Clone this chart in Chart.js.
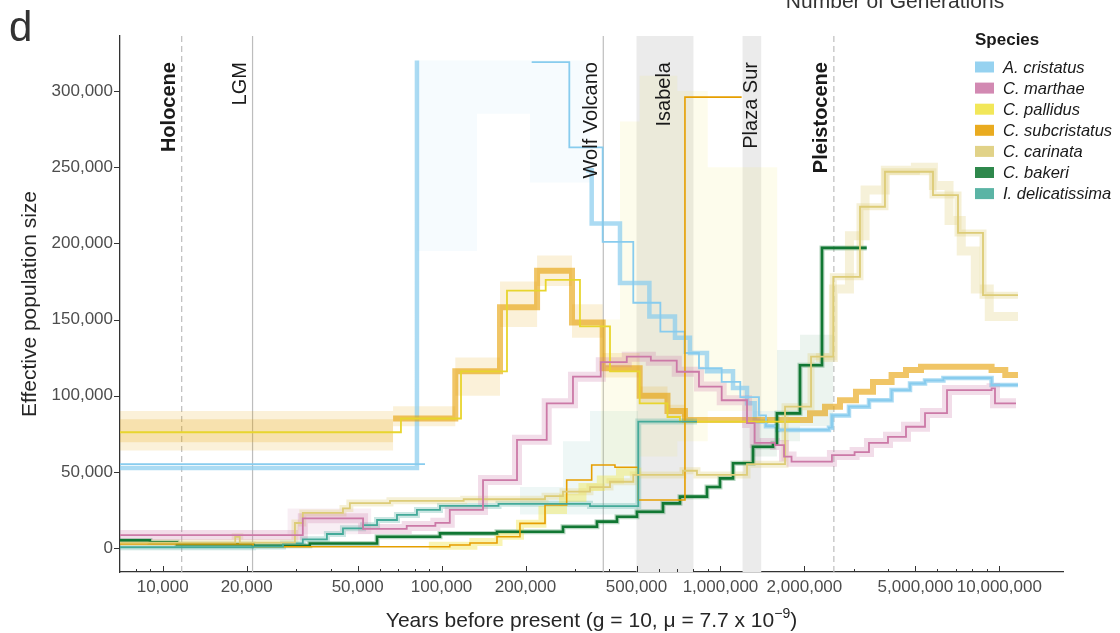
<!DOCTYPE html>
<html>
<head>
<meta charset="utf-8">
<title>PSMC effective population size</title>
<script src="https://cdn.jsdelivr.net/npm/chart.js@4.4.1/dist/chart.umd.min.js"></script>
<style>
  html, body { margin: 0; padding: 0; background: #fff; }
  #wrap { width: 1120px; height: 633px; }
</style>
</head>
<body>
<div id="wrap"><canvas id="psmcChart" width="1120" height="633"></canvas></div>
<script>
// ---- axes ----
const X_MIN = 7030, X_MAX = 16910000;
const Y_MIN = -15750, Y_MAX = 336100;
const X_TICKS = [10000, 20000, 50000, 100000, 200000, 500000, 1000000, 2000000, 5000000, 10000000];
const X_MINOR_TICKS = [8000, 9000, 30000, 40000, 60000, 70000, 80000, 90000,
  300000, 400000, 600000, 700000, 800000, 900000, 3000000, 4000000, 6000000, 7000000, 8000000, 9000000];
const Y_TICKS = [0, 50000, 100000, 150000, 200000, 250000, 300000];

// ---- events / islands ----
const EVENT_NAMES = ['Holocene', 'LGM', 'Wolf Volcano', 'Pleistocene'];
const EVENT_YEARS = [11700, 21000, 380000, 2550000];
const EVENT_DASHED = [true, false, false, true];
const EVENT_BOLD = [true, false, false, true];
const ISLAND_NAMES = ['Isabela', 'Plaza Sur'];
const ISLAND_FROM = [500000, 1200000];
const ISLAND_TO = [800000, 1400000];

// ---- species ----
const SPECIES = ['A. cristatus', 'C. marthae', 'C. pallidus', 'C. subcristatus', 'C. carinata', 'C. bakeri', 'I. delicatissima'];
const SPECIES_COLORS = ['#88CCEE', '#CC79A7', '#F0E442', '#E69F00', '#DDCC77', '#117733', '#44AA99'];

// step series: each x starts a segment, last point closes it
const cristatusYears = [7030, 87200, 87200, 210400, 287100, 378100, 486800, 608800, 743400, 837300, 1010000, 1178000, 1374000, 1456000, 1600000, 2449000, 2510000, 2889000, 3408000, 4107000, 4782000, 5412000, 6300000, 9377000, 11660000];
const cristatusNe = [55000, 55000, null, 319000, 263000, 201000, 161000, 142000, 128000, 118000, 109000, 99000, 87000, 80000, 77500, 79000, 87000, 92800, 97000, 103700, 108000, 110000, 111600, 107000, 107000];
const cristatusBootYears = [7030, 81600, 81600, 330000, 345300, 436200, 556000, 686800, 777200, 894600, 1109000, 1245000, 1326000, 1456000, 1600000, 2449000, 2510000, 2889000, 3408000, 4107000, 4782000, 5412000, 6300000, 9377000, 11660000];
const cristatusBootNe = [52500, 320000, null, 248000, 213000, 174000, 152000, 138000, 128000, 116000, 105000, 95000, 83000, 80000, 77500, 79000, 87000, 92800, 97000, 103700, 108000, 110000, 111600, 107000, 107000];
const cristatusCloudYears = [81600, 134000, 207500, 340500];
const cristatusCloudHi = [320000, 320000, 320000, 320000];
const cristatusCloudLo = [195000, 285000, 240000, 240000];

const marthaeYears = [7030, 31800, 52300, 75000, 95000, 107000, 140800, 186400, 238200, 295900, 372200, 461300, 562800, 697000, 837300, 1010000, 1245000, 1326000, 1568000, 1690000, 1798000, 2510000, 3026000, 3408000, 3987000, 4626000, 5412000, 6490000, 9377000, 9645000, 11470000];
const marthaeNe = [8500, 19500, 12500, 14500, 16500, 25000, 44600, 71000, 95000, 112500, 122000, 125600, 123000, 115700, 106000, 97000, 82000, 69000, 67600, 60000, 56700, 61000, 63000, 69000, 73000, 79600, 88600, 103700, 104800, 95000, 95000];
const marthaeCloudYears = [28000, 56000];
const marthaeCloudHi = [26000, 26000];
const marthaeCloudLo = [9000, 9000];

const pallidusYears = [7030, 71500, 117400, 171600, 236200, 313500, 401700, 513100, 645600, 715700, 1928000];
const pallidusNe = [76000, 85000, 116000, 169000, 176000, 145500, 116000, 95000, 86000, 83000, 83000];
const pallidusBootYears = [90000, 130000, 160000, 191000, 230000, 272500, 320000, 372200, 436200, 520000];
const pallidusBootNe = [1500, 4000, 8000, 16000, 25000, 33000, 40000, 45000, 50000, 50000];
const pallidusCloudYears = [372200, 436200, 513100, 700000, 900000, 1600000];
const pallidusCloudHi = [150000, 280000, 310000, 300000, 250000, 250000];
const pallidusCloudLo = [55000, 55000, 60000, 70000, 90000, 90000];

const subcristatusYears = [7030, 21100, 107000, 126400, 158000, 191000, 234900, 280900, 345300, 418500, 507300, 745800, 1191000];
const subcristatusNe = [2600, 800, 2000, 3300, 7400, 16200, 28200, 44600, 54500, 53000, 31500, 296000, 296000];
const subcristatusBootYears = [67000, 112000, 162000, 220000, 293500, 378100, 513100, 645600, 745800, 2094000, 2370000, 2682000, 3061000, 3523000, 4107000, 4626000, 5236000, 9377000, 10500000, 11660000];
const subcristatusBootNe = [85000, 116000, 158000, 182000, 148000, 118000, 100000, 90000, 84000, 88400, 92800, 97000, 102600, 109000, 113600, 116900, 119000, 116900, 113600, 113600];
const subcristatusCloudYears = [7030, 67000, 112000, 162000, 220000, 293500, 378100, 513100, 645600, 745800];
const subcristatusCloudHi = [90000, 93000, 125000, 175000, 192000, 160000, 128000, 106000, 94000, 94000];
const subcristatusCloudLo = [64000, 80000, 100000, 145000, 172000, 138000, 112000, 95000, 86000, 86000];
const subcristatusCoreYears = [7030, 67000];
const subcristatusCoreHi = [84500, 84500];
const subcristatusCoreLo = [69500, 69500];

const carinataYears = [7030, 18200, 18900, 29800, 31800, 44300, 46900, 65300, 120000, 234900, 272500, 340500, 401700, 486800, 733600, 823500, 1245000, 1704000, 2112000, 2538000, 3164000, 3889000, 5781000, 7107000, 8736000, 11660000];
const carinataNe = [3500, 7400, 3500, 16400, 23000, 26000, 29500, 31000, 32000, 34000, 37000, 40000, 43500, 48000, 50700, 48000, 55000, 92800, 125600, 178000, 224000, 247000, 231700, 206800, 166000, 166000];
const carinataBootYears = [2200000, 2540000, 2900000, 3300000, 3900000, 5000000, 5800000, 6600000, 7300000, 8200000, 9200000, 11660000];
const carinataBootNe = [125000, 170000, 205000, 235000, 248000, 250000, 238000, 215000, 195000, 170000, 152000, 152000];

const bakeriYears = [7030, 9000, 11250, 21100, 33700, 58700, 98700, 158000, 272500, 360700, 425500, 501800, 622000, 715700, 894600, 995900, 1109000, 1308000, 1543000, 1594000, 1928000, 2312000, 3344000];
const bakeriNe = [5000, 3800, 2500, 1500, 3000, 7400, 9600, 10700, 14000, 17300, 20500, 23800, 29300, 33700, 40000, 45700, 55600, 66500, 68700, 88400, 120000, 197000, 197000];
const bakeriCloudYears = [1308000, 1594000, 1928000, 2540000];
const bakeriCloudHi = [90000, 130000, 140000, 140000];
const bakeriCloudLo = [60000, 70000, 80000, 80000];

const delicatissimaYears = [7030, 21100, 27000, 31800, 38800, 44300, 52300, 58700, 69200, 81600, 98700, 160000, 340500, 507300, 823500];
const delicatissimaNe = [500, 1000, 3000, 5700, 9200, 12900, 15000, 18400, 21700, 25000, 27600, 29000, 27500, 83000, 83000];
const delicatissimaCloudYears = [191000, 272500, 340500, 507300];
const delicatissimaCloudHi = [40000, 70000, 90000, 90000];
const delicatissimaCloudLo = [22000, 22000, 22000, 22000];

const FONT = "'Liberation Sans', Arial, Helvetica, sans-serif";
const C = {};
SPECIES.forEach((s, i) => { C[s] = SPECIES_COLORS[i]; });

function alpha(hex, a) {
    const n = parseInt(hex.slice(1), 16);
    return `rgba(${(n >> 16) & 255}, ${(n >> 8) & 255}, ${n & 255}, ${a})`;
}

function pts(xs, ys) {
    return xs.map((x, i) => ({ x, y: ys[i] }));
}

function steps(xs, ys, color, width, order) {
    return {
        data: pts(xs, ys),
        borderColor: color,
        borderWidth: width,
        stepped: true,
        pointRadius: 0,
        pointHoverRadius: 0,
        fill: false,
        spanGaps: false,
        clip: 0,
        order,
        borderJoinStyle: 'miter',
        borderCapStyle: 'butt'
    };
}

function cloud(xs, hi, lo, color, a) {
    return [
        { data: pts(xs, hi), borderWidth: 0, borderColor: 'rgba(0,0,0,0)', stepped: true, pointRadius: 0, fill: false, clip: 0, order: 5 },
        { data: pts(xs, lo), borderWidth: 0, borderColor: 'rgba(0,0,0,0)', backgroundColor: alpha(color, a), stepped: true, pointRadius: 0, fill: '-1', clip: 0, order: 5 }
    ];
}

const datasets = [
    ...cloud(cristatusCloudYears, cristatusCloudHi, cristatusCloudLo, C['A. cristatus'], 0.08),
    ...cloud(subcristatusCloudYears, subcristatusCloudHi, subcristatusCloudLo, C['C. subcristatus'], 0.15),
    ...cloud(subcristatusCoreYears, subcristatusCoreHi, subcristatusCoreLo, C['C. subcristatus'], 0.2),
    ...cloud(pallidusCloudYears, pallidusCloudHi, pallidusCloudLo, C['C. pallidus'], 0.1),
    ...cloud(delicatissimaCloudYears, delicatissimaCloudHi, delicatissimaCloudLo, C['I. delicatissima'], 0.09),
    ...cloud(bakeriCloudYears, bakeriCloudHi, bakeriCloudLo, C['C. bakeri'], 0.08),
    ...cloud(marthaeCloudYears, marthaeCloudHi, marthaeCloudLo, C['C. marthae'], 0.13),

    steps(pallidusBootYears, pallidusBootNe, alpha(C['C. pallidus'], 0.4), 8, 3),
    steps(marthaeYears, marthaeNe, alpha(C['C. marthae'], 0.25), 10, 3),
    steps(carinataYears, carinataNe, alpha(C['C. carinata'], 0.3), 7, 3),
    steps(carinataBootYears, carinataBootNe, alpha(C['C. carinata'], 0.28), 9, 3),
    steps(delicatissimaYears, delicatissimaNe, alpha(C['I. delicatissima'], 0.28), 6, 3),
    steps(bakeriYears, bakeriNe, alpha(C['C. bakeri'], 0.3), 5, 3),
    steps(subcristatusBootYears, subcristatusBootNe, alpha(C['C. subcristatus'], 0.6), 6, 3),
    steps(cristatusBootYears, cristatusBootNe, alpha(C['A. cristatus'], 0.7), 4.5, 3),

    steps(marthaeYears, marthaeNe, C['C. marthae'], 1.8, 1),
    steps(carinataYears, carinataNe, C['C. carinata'], 1.8, 1),
    steps(delicatissimaYears, delicatissimaNe, C['I. delicatissima'], 1.8, 1),
    steps(subcristatusYears, subcristatusNe, C['C. subcristatus'], 1.6, 1),
    steps(pallidusYears, pallidusNe, '#E8D52E', 1.8, 1),
    steps(bakeriYears, bakeriNe, C['C. bakeri'], 2.6, 1),
    steps(cristatusYears, cristatusNe, C['A. cristatus'], 1.8, 1)
];

function vText(ctx, text, cx, topY) {
    ctx.save();
    ctx.translate(cx, topY);
    ctx.rotate(-Math.PI / 2);
    ctx.textAlign = 'right';
    ctx.textBaseline = 'middle';
    ctx.fillText(text, 0, 0);
    ctx.restore();
}

const decor = {
    id: 'decor',
    beforeDatasetsDraw(chart) {
        const { ctx, chartArea: a, scales: { x } } = chart;
        ctx.save();
        ctx.fillStyle = '#EBEBEB';
        ISLAND_FROM.forEach((from, i) => {
            const x0 = x.getPixelForValue(from);
            const x1 = x.getPixelForValue(ISLAND_TO[i]);
            ctx.fillRect(x0, a.top, x1 - x0, a.bottom - a.top);
        });
        ctx.strokeStyle = '#BDBDBD';
        ctx.lineWidth = 1.2;
        EVENT_YEARS.forEach((yr, i) => {
            const px = x.getPixelForValue(yr);
            ctx.setLineDash(EVENT_DASHED[i] ? [6, 4] : []);
            ctx.beginPath();
            ctx.moveTo(px, a.top);
            ctx.lineTo(px, a.bottom);
            ctx.stroke();
        });
        ctx.restore();
    },
    afterDatasetsDraw(chart) {
        const { ctx, scales: { x, y } } = chart;
        const top = y.getPixelForValue(319000);
        ctx.save();
        ctx.fillStyle = '#1A1A1A';
        EVENT_NAMES.forEach((name, i) => {
            ctx.font = (EVENT_BOLD[i] ? 'bold ' : '') + '20px ' + FONT;
            vText(ctx, name, x.getPixelForValue(EVENT_YEARS[i]) - 12, top);
        });
        ctx.font = '20px ' + FONT;
        ISLAND_NAMES.forEach((name, i) => {
            const cx = (x.getPixelForValue(ISLAND_FROM[i]) + x.getPixelForValue(ISLAND_TO[i])) / 2;
            vText(ctx, name, cx, top);
        });
        ctx.restore();
    },
    afterDraw(chart) {
        const { ctx, chartArea: a, scales: { x, y } } = chart;
        ctx.save();
        // tick marks: x inside, y outside
        ctx.strokeStyle = '#333';
        ctx.lineWidth = 1;
        ctx.beginPath();
        X_TICKS.forEach(v => {
            const px = Math.round(x.getPixelForValue(v)) + 0.5;
            ctx.moveTo(px, a.bottom);
            ctx.lineTo(px, a.bottom - 6);
        });
        X_MINOR_TICKS.forEach(v => {
            const px = Math.round(x.getPixelForValue(v)) + 0.5;
            ctx.moveTo(px, a.bottom);
            ctx.lineTo(px, a.bottom - 3);
        });
        Y_TICKS.forEach(v => {
            const py = Math.round(y.getPixelForValue(v)) + 0.5;
            ctx.moveTo(a.left - 6, py);
            ctx.lineTo(a.left, py);
        });
        ctx.stroke();

        // axis titles
        ctx.fillStyle = '#262626';
        ctx.font = '21px ' + FONT;
        ctx.save();
        ctx.translate(30, (a.top + a.bottom) / 2);
        ctx.rotate(-Math.PI / 2);
        ctx.textAlign = 'center';
        ctx.textBaseline = 'middle';
        ctx.fillText('Effective population size', 0, 0);
        ctx.restore();

        const main = 'Years before present (g = 10, \u03BC = 7.7 x 10';
        const sup = '\u22129';
        const tail = ')';
        ctx.textBaseline = 'alphabetic';
        ctx.textAlign = 'left';
        const wMain = ctx.measureText(main).width;
        const wTail = ctx.measureText(tail).width;
        ctx.font = '14px ' + FONT;
        const wSup = ctx.measureText(sup).width;
        const tx = (a.left + a.right) / 2 - (wMain + wSup + wTail) / 2;
        const base = 627;
        ctx.font = '21px ' + FONT;
        ctx.fillText(main, tx, base);
        ctx.font = '14px ' + FONT;
        ctx.fillText(sup, tx + wMain, base - 9);
        ctx.font = '21px ' + FONT;
        ctx.fillText(tail, tx + wMain + wSup, base);

        // top axis title (cut by the frame) and panel letter
        ctx.fillStyle = '#333';
        ctx.textAlign = 'center';
        ctx.fillText('Number of Generations', 895, 8);
        ctx.textAlign = 'left';
        ctx.font = '42px ' + FONT;
        ctx.fillText('d', 9, 41);

        // legend
        ctx.fillStyle = '#1A1A1A';
        ctx.font = 'bold 17px ' + FONT;
        ctx.textBaseline = 'middle';
        ctx.fillText('Species', 975, 40);
        ctx.font = 'italic 16.5px ' + FONT;
        SPECIES.forEach((name, i) => {
            const cy = 67 + i * 21.1;
            ctx.fillStyle = alpha(SPECIES_COLORS[i], 0.88);
            ctx.fillRect(975, cy - 5.5, 19, 11);
            ctx.fillStyle = '#1A1A1A';
            ctx.fillText(name, 1003, cy + 1);
        });
        ctx.restore();
    }
};

new Chart(document.getElementById('psmcChart'), {
    type: 'line',
    data: { datasets },
    options: {
        responsive: false,
        animation: false,
        devicePixelRatio: 1,
        layout: { padding: { left: 0, right: 57, top: 36, bottom: 0 } },
        plugins: {
            legend: { display: false },
            tooltip: { enabled: false },
            filler: { propagate: false }
        },
        scales: {
            x: {
                type: 'logarithmic',
                min: X_MIN,
                max: X_MAX,
                afterBuildTicks: scale => { scale.ticks = X_TICKS.map(v => ({ value: v })); },
                afterFit: scale => { scale.height = 61; },
                ticks: {
                    autoSkip: false,
                    maxRotation: 0,
                    padding: 5,
                    color: '#4D4D4D',
                    font: { family: FONT, size: 17 },
                    callback: v => Number(v).toLocaleString('en-US')
                },
                grid: { display: false, drawTicks: false },
                border: { display: true, color: '#333', width: 1.3 }
            },
            y: {
                type: 'linear',
                min: Y_MIN,
                max: Y_MAX,
                afterBuildTicks: scale => { scale.ticks = Y_TICKS.map(v => ({ value: v })); },
                afterFit: scale => { scale.width = 120; },
                ticks: {
                    autoSkip: false,
                    padding: 7,
                    color: '#4D4D4D',
                    font: { family: FONT, size: 17 },
                    callback: v => Number(v).toLocaleString('en-US')
                },
                grid: { display: false, drawTicks: false },
                border: { display: true, color: '#333', width: 1.3 }
            }
        }
    },
    plugins: [decor]
});
</script>
</body>
</html>
